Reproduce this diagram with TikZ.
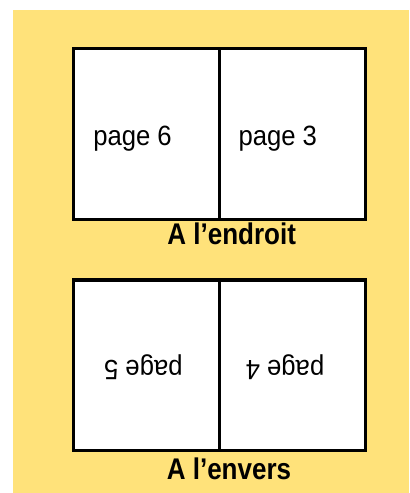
\documentclass[tikz,border=0pt]{standalone}
\usepackage{graphicx}
\usepackage{fontspec}
\setmainfont{Liberation Sans}
\definecolor{bgyellow}{HTML}{FFE27A}
\begin{document}
\begin{tikzpicture}[x=1bp,y=-1bp,
  pagebox/.style={draw=black,line width=3.2bp,fill=white,minimum width=146bp,minimum height=171bp,inner sep=0pt,outer sep=0pt,anchor=north west},
  pagetext/.style={font=\fontsize{28}{28}\selectfont,inner sep=0pt,anchor=base},
  captiontext/.style={font=\bfseries\fontsize{30}{30}\selectfont,inner sep=0pt,anchor=base}]
\useasboundingbox (0,0) rectangle (409,493);
\fill[bgyellow] (13,10) rectangle (409,493);
% top sheet
\node[pagebox] (p6) at (73.5,48.5) {};
\node[pagebox] (p3) at (219.5,48.5) {};
% bottom sheet
\node[pagebox,minimum height=170.5bp] (p5) at (73.5,280) {};
\node[pagebox,minimum height=170.5bp] (p4) at (219.5,280) {};
% texts
\node[pagetext] (t6) at (132.5,145.7) {\scalebox{0.92}[1]{page 6}};
\node[pagetext] (t3) at (277.8,145.7) {\scalebox{0.92}[1]{page 3}};
\node[pagetext,rotate=180] (t5) at (143.3,360) {\scalebox{0.92}[1]{page 5}};
\node[pagetext,rotate=180] (t4) at (285,360) {\scalebox{0.92}[1]{page 4}};
\node[captiontext] (c1) at (231.7,244.3) {\scalebox{0.87}[1]{A l’endroit}};
\node[captiontext] (c2) at (229,479.3) {\scalebox{0.87}[1]{A l’envers}};
\end{tikzpicture}
\end{document}
